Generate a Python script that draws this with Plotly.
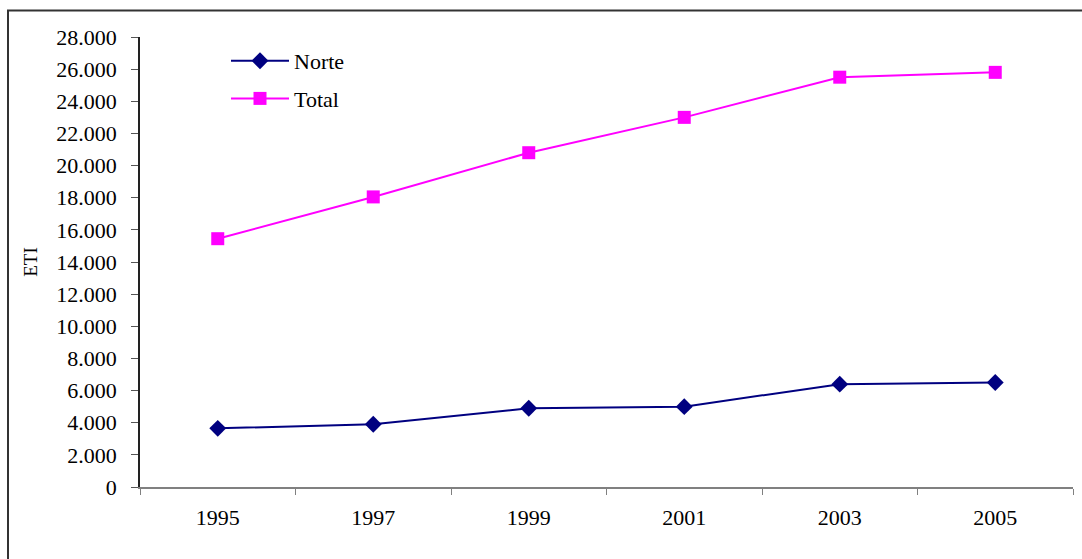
import plotly.graph_objects as go

years = ["1995", "1997", "1999", "2001", "2003", "2005"]
norte = [3650, 3900, 4900, 5000, 6400, 6500]
total = [15450, 18050, 20800, 23000, 25500, 25800]

W, H = 1082, 559
L, R, T, B = 140, 9, 37, 72
pw, ph = W - L - R, H - T - B

fig = go.Figure()
fig.add_trace(go.Scatter(
    x=years, y=norte, name="Norte", mode="lines+markers",
    line=dict(color="#000080", width=2),
    marker=dict(symbol="diamond", size=13, color="#000080"),
    legendgroup="a",
))
fig.add_trace(go.Scatter(
    x=years, y=total, name="Total", mode="lines+markers",
    line=dict(color="#FF00FF", width=2),
    marker=dict(symbol="square", size=13, color="#FF00FF"),
    legendgroup="b",
))

# outer frame around the chart area
fig.add_shape(
    type="rect", xref="paper", yref="paper",
    x0=(8 - L) / pw, x1=(W + 5 - L) / pw,
    y0=-(B + 5) / ph, y1=(H - 10.5 - B) / ph,
    line=dict(color="#333333", width=2), fillcolor="rgba(0,0,0,0)",
    layer="below",
)

fig.update_layout(
    width=W, height=H,
    margin=dict(l=L, r=R, t=T, b=B, pad=0),
    paper_bgcolor="white", plot_bgcolor="white",
    font=dict(family="Liberation Serif, Times New Roman, serif", size=22, color="black"),
    separators=",.",
    showlegend=True,
    legend=dict(
        x=(226 - L) / pw, y=(H - 40 - B) / ph, xanchor="left", yanchor="top",
        bgcolor="rgba(0,0,0,0)", font=dict(size=22),
        traceorder="grouped", tracegroupgap=6, itemwidth=58,
    ),
    xaxis=dict(
        type="category", range=[-0.5, 5.5], tickson="boundaries",
        showgrid=False, showline=True, linecolor="#808080", linewidth=2,
        ticks="outside", ticklen=6, tickcolor="#808080", tickwidth=1,
        tickfont=dict(size=22), zeroline=False, ticklabelstandoff=10,
    ),
    yaxis=dict(
        range=[0, 28000], dtick=2000, tickformat=",d",
        showgrid=False, showline=True, linecolor="#222222", linewidth=1.5,
        ticks="outside", ticklen=7, tickcolor="#555555", tickwidth=1,
        tickfont=dict(size=22), zeroline=False, ticklabelstandoff=10,
        title=dict(text="ETI", font=dict(size=19), standoff=14),
    ),
)

fig.write_html("out.html")
